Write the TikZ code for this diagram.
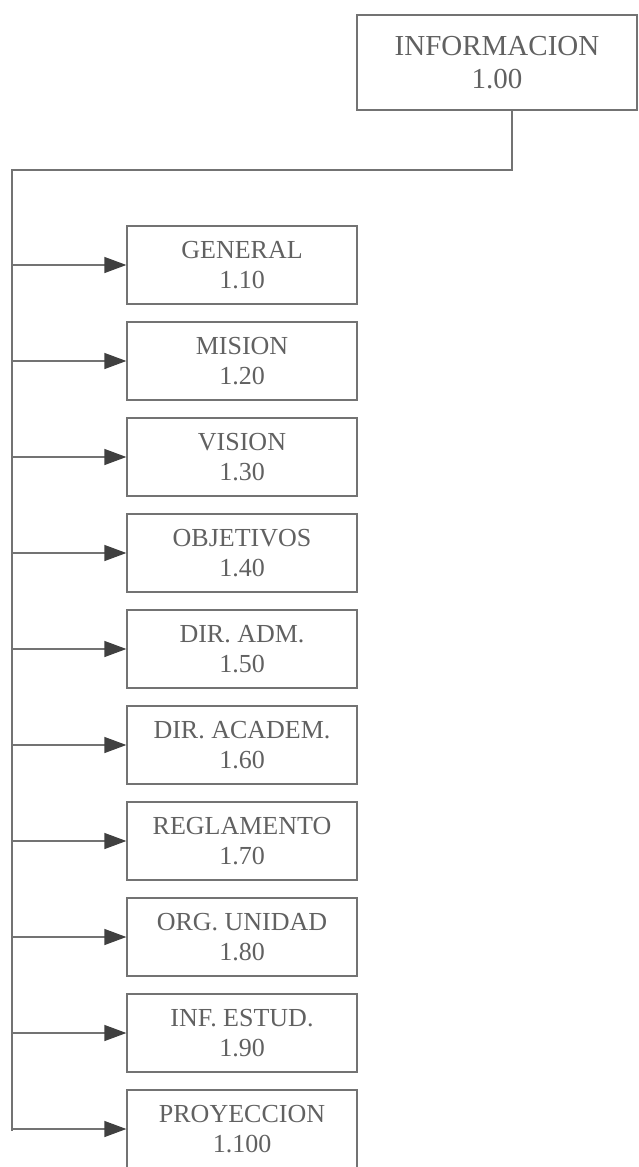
\documentclass[tikz,border=0pt]{standalone}
\usepackage{fontspec}
\setmainfont{Liberation Serif}
\usetikzlibrary{arrows.meta}
\colorlet{chart line color}{black!55}
\colorlet{chart text color}{black!62}
\tikzset{
    x={1pt},
    y={-1pt},
    menu box/.style={
        draw=chart line color,
        line width={1.3pt},
        align=center,
        inner sep=0pt,
        font={\fontsize{26}{30}\selectfont\color{chart text color}},
        minimum width={230},
        minimum height={78},
    },
    main box/.style={
        menu box,
        font={\fontsize{29}{33}\selectfont\color{chart text color}},
        minimum width={280},
        minimum height={95},
    },
    trunk/.style={
        draw=chart line color,
        line width={1.3pt},
    },
    menu arrow/.style={
        trunk,
        -{Triangle[length=22pt,width=16pt,color=black!75]},
    },
}

\begin{document}
\begin{tikzpicture}
\useasboundingbox (0,0) rectangle (639,1167);
% boxes
\node[main box] (info) at (497,62.5) {INFORMACION\\1.00};
\foreach \i/\label/\code in {0/GENERAL/1.10, 1/MISION/1.20, 2/VISION/1.30,
    3/OBJETIVOS/1.40, 4/DIR. ADM./1.50, 5/DIR. ACADEM./1.60,
    6/REGLAMENTO/1.70, 7/ORG. UNIDAD/1.80, 8/INF. ESTUD./1.90,
    9/PROYECCION/1.100}
{
    \node[menu box] (item\i) at (242,{265+96*\i}) {\label\\\code};
}
% trunk
\coordinate (trunk top) at (12,170);
\coordinate (trunk bottom) at (12,1131);
\draw[trunk] ([xshift=15]info.south) |- (trunk top) -- (trunk bottom);
% arrows
\foreach \i in {0,...,9}
{
    \draw[menu arrow] (trunk top |- item\i.west) -- (item\i.west);
}
\end{tikzpicture}
\end{document}
